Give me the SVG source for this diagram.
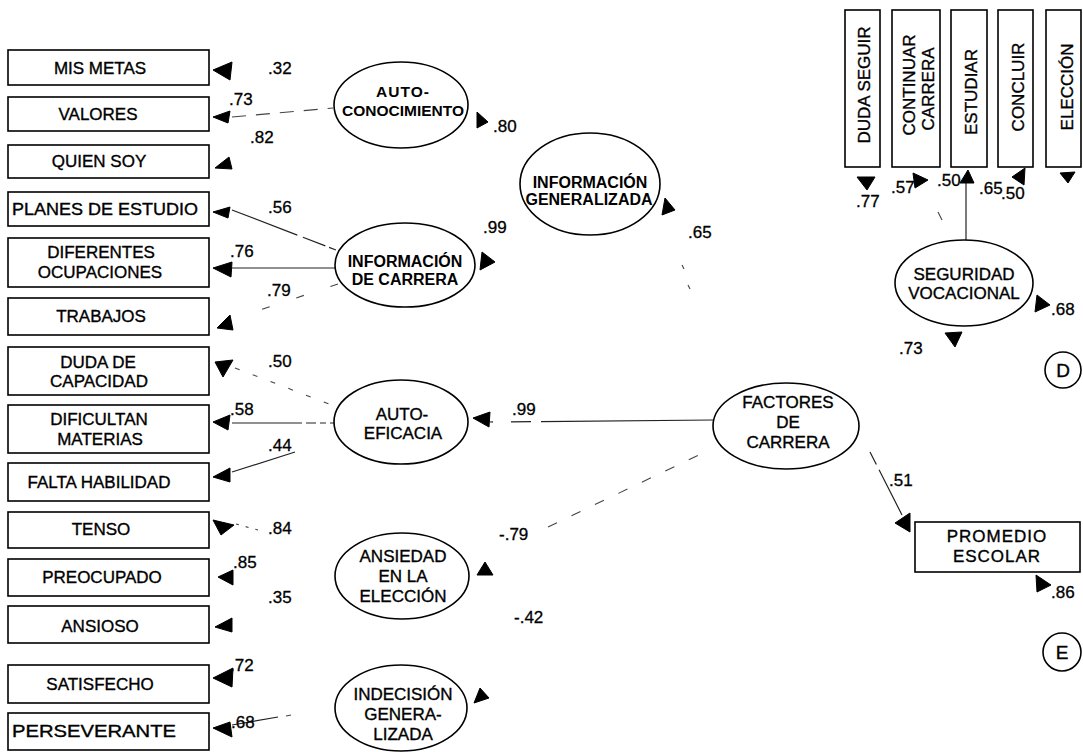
<svg xmlns="http://www.w3.org/2000/svg" width="1083" height="752" viewBox="0 0 1083 752">
<style>
.box{fill:#fff;stroke:#000;stroke-width:1.6}
.ell{fill:#fff;stroke:#000;stroke-width:1.6}
text{font-family:"Liberation Sans",Arial,sans-serif;fill:#000}
.t{font-size:17px;text-anchor:middle;stroke:#000;stroke-width:0.35}
.b{font-size:15.5px;font-weight:bold;text-anchor:middle}
.n{font-size:17px;stroke:#000;stroke-width:0.3}
.ah{fill:#000;stroke:#000;stroke-width:1;stroke-linejoin:round}
.ln{stroke:#222;stroke-width:1.2;fill:none}
.dl{stroke:#444;stroke-width:1.1;fill:none}
</style>
<rect width="1083" height="752" fill="#fff"/>

<g id="connectors">
  <line class="dl" x1="232" y1="117" x2="333" y2="108" stroke-dasharray="14 10"/>
  <line class="ln" x1="232" y1="210" x2="336" y2="250" stroke-dasharray="70 6 24 4"/>
  <line class="ln" x1="232" y1="268" x2="336" y2="268"/>
  <line class="dl" x1="338" y1="284" x2="236" y2="318" stroke-dasharray="8 28"/>
  <line class="dl" x1="235" y1="368" x2="337" y2="407" stroke-dasharray="5 14"/>
  <line class="ln" x1="232" y1="423" x2="335" y2="423" stroke-dasharray="70 4 10 4 6 4"/>
  <line class="ln" x1="232" y1="472" x2="295" y2="452"/>
  <line class="dl" x1="236" y1="524" x2="258" y2="530" stroke-dasharray="3 7"/>
  <line class="ln" x1="232" y1="725" x2="278" y2="717"/>
  <line class="dl" x1="286" y1="716" x2="291" y2="715"/>
  <line class="ln" x1="490" y1="422" x2="713" y2="420" stroke-dasharray="3 18 20 10 200"/>
  <line class="dl" x1="548" y1="527" x2="705" y2="452" stroke-dasharray="10 16"/>
  <line class="dl" x1="682" y1="265" x2="684" y2="269"/>
  <line class="dl" x1="688" y1="285" x2="690" y2="289"/>
  <line class="ln" x1="870" y1="452" x2="902" y2="515" stroke-dasharray="14 6 60"/>
  <line class="ln" x1="966" y1="183" x2="966" y2="240"/>
  <line class="dl" x1="938" y1="212" x2="942" y2="220"/>

  <polygon class="ah" points="213,70 232,62 230,80"/>
  <polygon class="ah" points="213,117 230,111 228,123"/>
  <polygon class="ah" points="215,168 229,157 232,169"/>
  <polygon class="ah" points="213,212 230,207 228,218"/>
  <polygon class="ah" points="213,268 232,262 231,277"/>
  <polygon class="ah" points="217,328 230,315 233,330"/>
  <polygon class="ah" points="215,362 233,360 223,377"/>
  <polygon class="ah" points="213,422 230,415 228,430"/>
  <polygon class="ah" points="213,477 230,468 230,482"/>
  <polygon class="ah" points="213,520 234,525 221,535"/>
  <polygon class="ah" points="218,577 233,570 233,585"/>
  <polygon class="ah" points="215,627 232,618 232,632"/>
  <polygon class="ah" points="213,678 233,668 232,687"/>
  <polygon class="ah" points="213,728 230,722 232,737"/>
  <polygon class="ah" points="477,112 477,128 488,122"/>
  <polygon class="ah" points="482,252 480,270 495,262"/>
  <polygon class="ah" points="665,198 662,215 675,210"/>
  <polygon class="ah" points="473,418 490,412 489,427"/>
  <polygon class="ah" points="477,575 485,562 493,575"/>
  <polygon class="ah" points="474,703 480,688 489,698"/>
  <polygon class="ah" points="1037,295 1035,312 1050,305"/>
  <polygon class="ah" points="945,333 962,332 955,347"/>
  <polygon class="ah" points="895,523 910,513 910,532"/>
  <polygon class="ah" points="1036,575 1037,592 1051,585"/>
  <polygon class="ah" points="857,177 875,177 867,190"/>
  <polygon class="ah" points="913,173 915,188 928,180"/>
  <polygon class="ah" points="960,183 968,170 974,183"/>
  <polygon class="ah" points="1012,177 1025,168 1024,185"/>
  <polygon class="ah" points="1060,173 1075,172 1068,183"/>
</g>

<g id="labels">
  <text class="n" x="268" y="74">.32</text>
  <text class="n" x="229" y="105">.73</text>
  <text class="n" x="250" y="143">.82</text>
  <text class="n" x="268" y="213">.56</text>
  <text class="n" x="230" y="257">.76</text>
  <text class="n" x="267" y="296">.79</text>
  <text class="n" x="268" y="367">.50</text>
  <text class="n" x="230" y="415">.58</text>
  <text class="n" x="268" y="451">.44</text>
  <text class="n" x="268" y="534">.84</text>
  <text class="n" x="233" y="568">.85</text>
  <text class="n" x="268" y="603">.35</text>
  <text class="n" x="230" y="671">.72</text>
  <text class="n" x="231" y="728">.68</text>
  <text class="n" x="493" y="132">.80</text>
  <text class="n" x="483" y="233">.99</text>
  <text class="n" x="688" y="238">.65</text>
  <text class="n" x="512" y="415">.99</text>
  <text class="n" x="499" y="540">-.79</text>
  <text class="n" x="514" y="623">-.42</text>
  <text class="n" x="889" y="486">.51</text>
  <text class="n" x="1051" y="315">.68</text>
  <text class="n" x="899" y="354">.73</text>
  <text class="n" x="1051" y="598">.86</text>
  <text class="n" x="856" y="207">.77</text>
  <text class="n" x="891" y="193">.57</text>
  <text class="n" x="937" y="186">.50</text>
  <text class="n" x="979" y="194">.65</text>
  <text class="n" x="1001" y="199">.50</text>
</g>

<g id="n-mis-metas"><rect class="box" x="8" y="50" width="201" height="35"/><text class="t" x="100" y="74">MIS METAS</text></g>
<g id="n-valores"><rect class="box" x="8" y="97" width="201" height="34"/><text class="t" x="98" y="120">VALORES</text></g>
<g id="n-quien-soy"><rect class="box" x="8" y="145" width="201" height="33"/><text class="t" x="99" y="167">QUIEN SOY</text></g>
<g id="n-planes"><rect class="box" x="8" y="192" width="201" height="34"/><text class="t" x="105" y="215" textLength="186" lengthAdjust="spacingAndGlyphs">PLANES DE ESTUDIO</text></g>
<g id="n-diferentes"><rect class="box" x="8" y="238" width="201" height="49"/><text class="t" x="101" y="258">DIFERENTES</text><text class="t" x="100" y="278">OCUPACIONES</text></g>
<g id="n-trabajos"><rect class="box" x="8" y="298" width="201" height="37"/><text class="t" x="101" y="322">TRABAJOS</text></g>
<g id="n-duda-capacidad"><rect class="box" x="8" y="347" width="201" height="48"/><text class="t" x="98" y="368">DUDA DE</text><text class="t" x="99" y="387">CAPACIDAD</text></g>
<g id="n-dificultan"><rect class="box" x="8" y="405" width="201" height="48"/><text class="t" x="99" y="425">DIFICULTAN</text><text class="t" x="100" y="445">MATERIAS</text></g>
<g id="n-falta-habilidad"><rect class="box" x="8" y="463" width="201" height="38"/><text class="t" x="99" y="488">FALTA HABILIDAD</text></g>
<g id="n-tenso"><rect class="box" x="8" y="512" width="201" height="36"/><text class="t" x="101" y="535">TENSO</text></g>
<g id="n-preocupado"><rect class="box" x="8" y="559" width="201" height="37"/><text class="t" x="102" y="583">PREOCUPADO</text></g>
<g id="n-ansioso"><rect class="box" x="8" y="606" width="201" height="37"/><text class="t" x="100" y="632">ANSIOSO</text></g>
<g id="n-satisfecho"><rect class="box" x="8" y="665" width="201" height="38"/><text class="t" x="100" y="690">SATISFECHO</text></g>
<g id="n-perseverante"><rect class="box" x="8" y="713" width="201" height="37"/><text class="t" x="94" y="737" textLength="164" lengthAdjust="spacingAndGlyphs">PERSEVERANTE</text></g>

<g id="n-autoconocimiento"><ellipse class="ell" cx="401" cy="105" rx="67" ry="43"/><text class="b" x="403" y="97" letter-spacing="1">AUTO-</text><text class="b" x="403" y="116">CONOCIMIENTO</text></g>
<g id="n-info-carrera"><ellipse class="ell" cx="405" cy="265" rx="70" ry="42"/><text class="b" x="405" y="267" style="font-size:16px">INFORMACIÓN</text><text class="b" x="405" y="285" style="font-size:16px">DE CARRERA</text></g>
<g id="n-info-generalizada"><ellipse class="ell" cx="590" cy="184" rx="70" ry="51"/><text class="b" x="590" y="188" style="font-size:16px">INFORMACIÓN</text><text class="b" x="589" y="205" style="font-size:16px">GENERALIZADA</text></g>
<g id="n-autoeficacia"><ellipse class="ell" cx="401" cy="422" rx="67" ry="42"/><text class="t" x="402" y="420">AUTO-</text><text class="t" x="403" y="439">EFICACIA</text></g>
<g id="n-ansiedad"><ellipse class="ell" cx="402" cy="576" rx="67" ry="43"/><text class="t" x="403" y="562">ANSIEDAD</text><text class="t" x="403" y="582">EN LA</text><text class="t" x="403" y="602">ELECCIÓN</text></g>
<g id="n-indecision"><ellipse class="ell" cx="401" cy="708" rx="66" ry="43"/><text class="t" x="403" y="700">INDECISIÓN</text><text class="t" x="403" y="720">GENERA-</text><text class="t" x="403" y="740">LIZADA</text></g>
<g id="n-factores"><ellipse class="ell" cx="786" cy="426" rx="73" ry="43"/><text class="t" x="788" y="408">FACTORES</text><text class="t" x="788" y="428">DE</text><text class="t" x="788" y="448">CARRERA</text></g>
<g id="n-seguridad"><ellipse class="ell" cx="964" cy="283" rx="69" ry="43"/><text class="t" x="964" y="280">SEGURIDAD</text><text class="t" x="964" y="299">VOCACIONAL</text></g>
<g id="n-promedio"><rect class="box" x="915" y="522" width="165" height="50"/><text class="t" x="997" y="542" letter-spacing="1">PROMEDIO</text><text class="t" x="997" y="562" letter-spacing="1">ESCOLAR</text></g>
<g id="n-d"><circle class="ell" cx="1063" cy="370" r="18"/><text class="t" x="1063" y="377" style="font-size:19px">D</text></g>
<g id="n-e"><circle class="ell" cx="1062" cy="652" r="19"/><text class="t" x="1062" y="659" style="font-size:19px">E</text></g>

<g id="n-duda-seguir"><rect class="box" x="845" y="10" width="35" height="157"/><text class="t" transform="translate(870,85) rotate(-90)" x="0" y="0">DUDA SEGUIR</text></g>
<g id="n-continuar"><rect class="box" x="892" y="10" width="48" height="157"/><text class="t" transform="translate(915,85) rotate(-90)" x="0" y="0">CONTINUAR</text><text class="t" transform="translate(934,89) rotate(-90)" x="0" y="0">CARRERA</text></g>
<g id="n-estudiar"><rect class="box" x="951" y="10" width="36" height="157"/><text class="t" transform="translate(977,92) rotate(-90)" x="0" y="0">ESTUDIAR</text></g>
<g id="n-concluir"><rect class="box" x="998" y="10" width="35" height="157"/><text class="t" transform="translate(1024,87) rotate(-90)" x="0" y="0">CONCLUIR</text></g>
<g id="n-eleccion"><rect class="box" x="1046" y="10" width="35" height="157"/><text class="t" transform="translate(1073,87) rotate(-90)" x="0" y="0">ELECCIÓN</text></g>
</svg>
